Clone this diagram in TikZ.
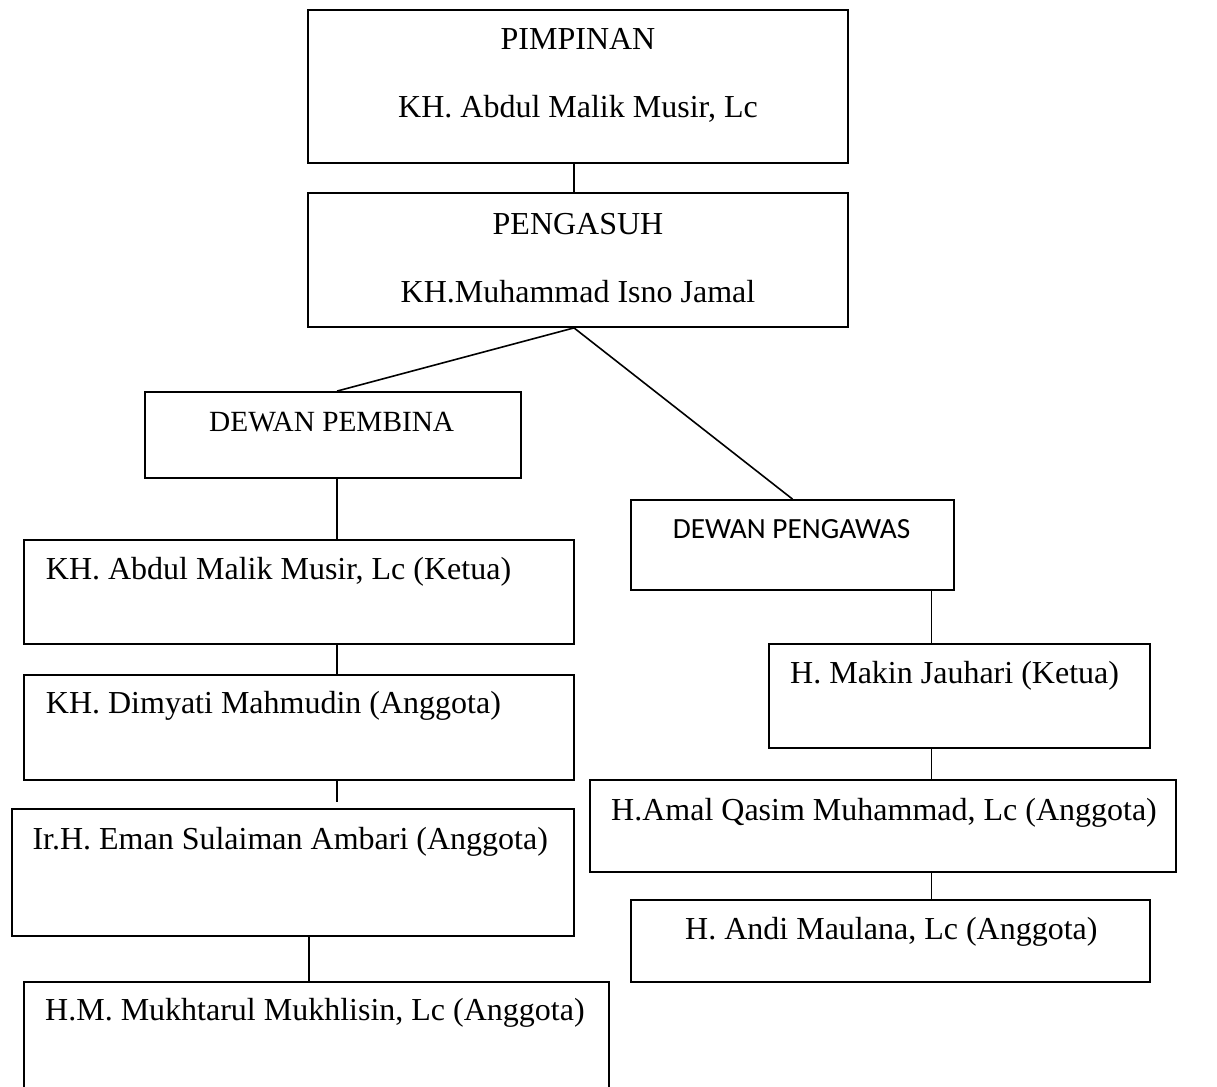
\documentclass[tikz,border=0pt]{standalone}
\usepackage{fontspec}
\setmainfont{Liberation Serif}
\newfontfamily\calibrilike{Carlito}
\begin{document}
\begin{tikzpicture}[x=1pt,y=-1pt,
  orgbox/.style={draw=black, line width=1.8pt, inner sep=0pt, fill=none},
  conn/.style={draw=black, line width=1.6pt},
  txt/.style={inner sep=0pt, anchor=base west, font=\fontsize{32}{38}\selectfont},
  ctxt/.style={inner sep=0pt, anchor=base, font=\fontsize{32}{38}\selectfont},
  smalltxt/.style={inner sep=0pt, anchor=base west, font=\fontsize{29.3}{35}\selectfont},
  sanstxt/.style={inner sep=0pt, anchor=base west, font=\calibrilike\fontsize{29.3}{35}\selectfont}]
\clip (0,0) rectangle (1217,1086);
\fill[white] (0,0) rectangle (1217,1086);

% box from corner (x1,y1) to (x2,y2)
\newcommand{\orgnode}[5]{%
  \node[orgbox, minimum width={#4-#2}, minimum height={#5-#3}]
    (#1) at ({(#2+#4)/2},{(#3+#5)/2}) {};}

\orgnode{pimp}{308}{10}{848}{163}
\orgnode{peng}{308}{193}{848}{327}
\orgnode{pembina}{145}{392}{521}{478}
\orgnode{pengawas}{631}{500}{954}{590}
\orgnode{ketuaA}{24}{540}{574}{644}
\orgnode{dimyati}{24}{675}{574}{780}
\orgnode{eman}{12}{809}{574}{936}
\orgnode{mukh}{24}{982}{609}{1110}
\orgnode{makin}{769}{644}{1150}{748}
\orgnode{amal}{590}{780}{1176}{872}
\orgnode{andi}{631}{900}{1150}{982}

% vertical axes of the connectors
\coordinate (axTop) at (574,0);
\coordinate (axL) at (337,0);
\coordinate (axL2) at (308.7,0);
\coordinate (axR) at (931.5,0);

% labels
\node[ctxt] (tPimp) at (578,50) {PIMPINAN};
\node[ctxt] (tPimpN) at (578,118) {KH. Abdul Malik Musir, Lc};
\node[ctxt] (tPeng) at (578,234) {PENGASUH};
\node[ctxt] (tPengN) at (578,302) {KH.Muhammad Isno Jamal};
\node[smalltxt] (tPembina) at (209,431) {DEWAN PEMBINA};
\node[sanstxt] (tPengawas) at (672.7,538.7) {DEWAN PENGAWAS};
\node[txt] (tKetuaA) at (45.7,579) {KH. Abdul Malik Musir, Lc (Ketua)};
\node[txt] (tDimyati) at (45.7,713.7) {KH. Dimyati Mahmudin (Anggota)};
\node[txt] (tEman) at (32.3,849) {Ir.H. Eman Sulaiman Ambari (Anggota)};
\node[txt] (tMukh) at (45,1020.7) {H.M. Mukhtarul Mukhlisin, Lc (Anggota)};
\node[txt] (tMakin) at (790,683.7) {H. Makin Jauhari (Ketua)};
\node[txt] (tAmal) at (611,820) {H.Amal Qasim Muhammad, Lc (Anggota)};
\node[txt] (tAndi) at (685,939) {H. Andi Maulana, Lc (Anggota)};

% connectors
\draw[conn] (pimp.south -| axTop) -- (peng.north -| axTop);
\draw[conn] (peng.south -| axTop) -- (pembina.north -| axL);
\draw[conn] (peng.south -| axTop) -- (pengawas.north);
\draw[conn] (pembina.south -| axL) -- (ketuaA.north -| axL);
\draw[conn] (ketuaA.south -| axL) -- (dimyati.north -| axL);
\coordinate (emanStub) at ([yshift=6pt]eman.north -| axL);
\draw[conn] (dimyati.south -| axL) -- (emanStub);
\draw[conn] (eman.south -| axL2) -- (mukh.north -| axL2);
\draw[conn] (pengawas.south -| axR) -- (makin.north -| axR);
\draw[conn] (makin.south -| axR) -- (amal.north -| axR);
\draw[conn] (amal.south -| axR) -- (andi.north -| axR);
\end{tikzpicture}
\end{document}
